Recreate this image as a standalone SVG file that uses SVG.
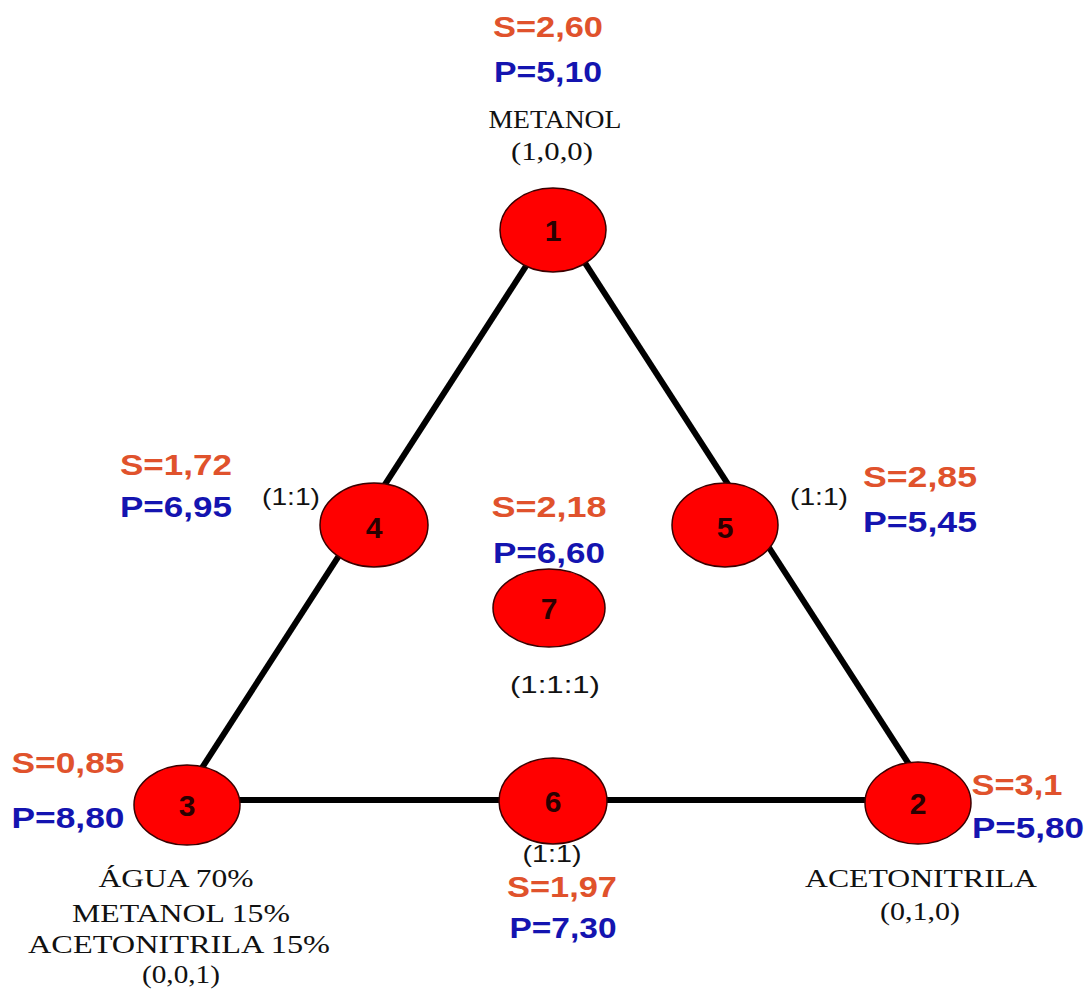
<svg xmlns="http://www.w3.org/2000/svg" width="1089" height="998" viewBox="0 0 1089 998">
  <style>
    .edge { stroke: #000; stroke-width: 6; fill: none; stroke-linecap: butt; }
    .node { fill: #ff0000; stroke: #3a0000; stroke-width: 1.5; }
    .num { font-family: "Liberation Sans", Arial, sans-serif; font-weight: bold; font-size: 30px; fill: #2a0000; text-anchor: middle; }
    .s { font-family: "Liberation Sans", Arial, sans-serif; font-weight: bold; font-size: 30px; fill: #e0522c; text-anchor: middle; }
    .p { font-family: "Liberation Sans", Arial, sans-serif; font-weight: bold; font-size: 30px; fill: #1414b0; text-anchor: middle; }
    .ratio { font-family: "Liberation Sans", Arial, sans-serif; font-size: 24px; fill: #111; text-anchor: middle; }
    .name { font-family: "Liberation Serif", "Times New Roman", serif; font-size: 26px; fill: #111; text-anchor: middle; }
  </style>
  <rect width="1089" height="998" fill="#ffffff"/>

  <!-- triangle sides -->
  <g id="connectors">
    <line class="edge" x1="548" y1="232" x2="178" y2="805"/>
    <line class="edge" x1="565" y1="232" x2="934" y2="803"/>
    <line class="edge" x1="187" y1="800" x2="918" y2="800"/>
  </g>

  <!-- vertex 1: pure methanol -->
  <g id="node1">
    <ellipse class="node" cx="553" cy="230" rx="53" ry="42"/>
    <text class="num" x="553" y="241">1</text>
    <text class="s" x="548" y="37" textLength="110" lengthAdjust="spacingAndGlyphs">S=2,60</text>
    <text class="p" x="548" y="82" textLength="108" lengthAdjust="spacingAndGlyphs">P=5,10</text>
    <text class="name" x="555" y="128" textLength="133" lengthAdjust="spacingAndGlyphs">METANOL</text>
    <text class="name" x="552" y="160" textLength="82" lengthAdjust="spacingAndGlyphs">(1,0,0)</text>
  </g>

  <!-- vertex 2: pure acetonitrile -->
  <g id="node2">
    <ellipse class="node" cx="918" cy="803" rx="53" ry="41"/>
    <text class="num" x="918" y="814">2</text>
    <text class="s" x="1017" y="795" textLength="91" lengthAdjust="spacingAndGlyphs">S=3,1</text>
    <text class="p" x="1028" y="838" textLength="112" lengthAdjust="spacingAndGlyphs">P=5,80</text>
    <text class="name" x="921" y="887" textLength="232" lengthAdjust="spacingAndGlyphs">ACETONITRILA</text>
    <text class="name" x="920" y="920" textLength="80" lengthAdjust="spacingAndGlyphs">(0,1,0)</text>
  </g>

  <!-- vertex 3: aqueous mixture -->
  <g id="node3">
    <ellipse class="node" cx="187" cy="805" rx="53" ry="40"/>
    <text class="num" x="187" y="816">3</text>
    <text class="s" x="68" y="773" textLength="113" lengthAdjust="spacingAndGlyphs">S=0,85</text>
    <text class="p" x="68" y="828" textLength="113" lengthAdjust="spacingAndGlyphs">P=8,80</text>
    <text class="name" x="176" y="887" textLength="155" lengthAdjust="spacingAndGlyphs">ÁGUA 70%</text>
    <text class="name" x="181" y="922" textLength="218" lengthAdjust="spacingAndGlyphs">METANOL 15%</text>
    <text class="name" x="179" y="953" textLength="302" lengthAdjust="spacingAndGlyphs">ACETONITRILA 15%</text>
    <text class="name" x="181" y="983" textLength="78" lengthAdjust="spacingAndGlyphs">(0,0,1)</text>
  </g>

  <!-- midpoint 1-3 -->
  <g id="node4">
    <ellipse class="node" cx="374" cy="525" rx="54" ry="42"/>
    <text class="num" x="374" y="538">4</text>
    <text class="s" x="176" y="475" textLength="112" lengthAdjust="spacingAndGlyphs">S=1,72</text>
    <text class="p" x="176" y="517" textLength="112" lengthAdjust="spacingAndGlyphs">P=6,95</text>
    <text class="ratio" x="291" y="505" textLength="58" lengthAdjust="spacingAndGlyphs">(1:1)</text>
  </g>

  <!-- midpoint 1-2 -->
  <g id="node5">
    <ellipse class="node" cx="725" cy="525" rx="53" ry="42"/>
    <text class="num" x="725" y="538">5</text>
    <text class="ratio" x="819" y="505" textLength="58" lengthAdjust="spacingAndGlyphs">(1:1)</text>
    <text class="s" x="920" y="487" textLength="114" lengthAdjust="spacingAndGlyphs">S=2,85</text>
    <text class="p" x="920" y="532" textLength="114" lengthAdjust="spacingAndGlyphs">P=5,45</text>
  </g>

  <!-- midpoint 3-2 -->
  <g id="node6">
    <ellipse class="node" cx="553" cy="801" rx="54" ry="43"/>
    <text class="num" x="553" y="812">6</text>
    <text class="ratio" x="552" y="862" textLength="59" lengthAdjust="spacingAndGlyphs">(1:1)</text>
    <text class="s" x="562" y="897" textLength="110" lengthAdjust="spacingAndGlyphs">S=1,97</text>
    <text class="p" x="563" y="938" textLength="107" lengthAdjust="spacingAndGlyphs">P=7,30</text>
  </g>

  <!-- centroid -->
  <g id="node7">
    <ellipse class="node" cx="549" cy="608" rx="56" ry="39"/>
    <text class="num" x="549" y="619">7</text>
    <text class="s" x="549" y="517" textLength="115" lengthAdjust="spacingAndGlyphs">S=2,18</text>
    <text class="p" x="549" y="563" textLength="112" lengthAdjust="spacingAndGlyphs">P=6,60</text>
    <text class="ratio" x="555" y="693" textLength="90" lengthAdjust="spacingAndGlyphs">(1:1:1)</text>
  </g>
</svg>
